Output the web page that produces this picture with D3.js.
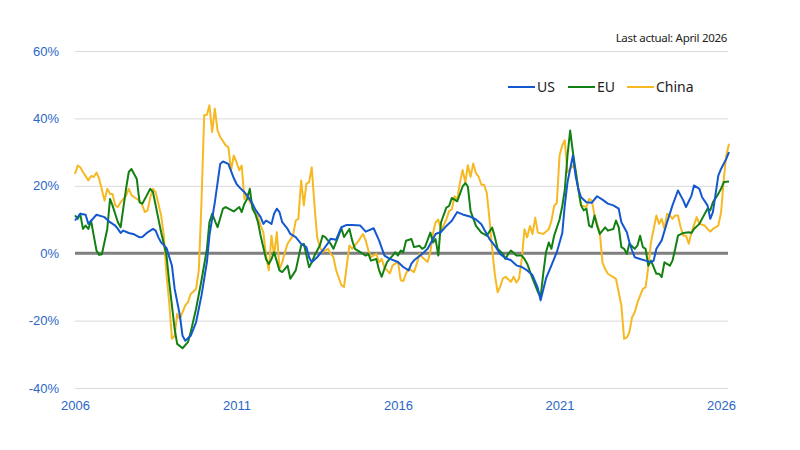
<!DOCTYPE html>
<html>
<head>
<meta charset="utf-8">
<script src="https://cdn.jsdelivr.net/npm/d3@7"></script>
<style>
  body { margin: 0; background: #fff; }
  svg { display: block; font-family: "Noto Sans", sans-serif; }
</style>
</head>
<body>
<div id="chart"></div>
<script>
// values, % change y/y, monthly points
let usDates = ["2006-01","2006-03","2006-05","2006-06","2006-09","2006-12","2007-02","2007-04","2007-05","2007-06","2007-07","2007-09","2007-11","2008-01","2008-02","2008-04","2008-06","2008-07","2008-08","2008-09","2008-11","2009-01","2009-02","2009-04","2009-05","2009-06","2009-08","2009-10","2009-12","2010-02","2010-03","2010-05","2010-07","2010-08","2010-10","2010-12","2011-01","2011-02","2011-04","2011-05","2011-07","2011-08","2011-10","2011-11","2011-12","2012-02","2012-03","2012-04","2012-05","2012-06","2012-08","2012-09","2012-11","2013-01","2013-03","2013-04","2013-05","2013-07","2013-09","2013-11","2013-12","2014-02","2014-04","2014-06","2014-08","2014-11","2015-01","2015-04","2015-06","2015-08","2015-10","2016-01","2016-03","2016-05","2016-06","2016-07","2016-10","2016-12","2017-02","2017-03","2017-05","2017-07","2017-09","2017-11","2018-01","2018-04","2018-06","2018-08","2018-09","2018-11","2019-01","2019-03","2019-05","2019-07","2019-09","2019-11","2020-01","2020-03","2020-05","2020-06","2020-08","2020-10","2020-12","2021-02","2021-03","2021-04","2021-05","2021-06","2021-07","2021-08","2021-09","2021-11","2022-01","2022-03","2022-05","2022-07","2022-09","2022-11","2022-12","2023-02","2023-03","2023-04","2023-05","2023-07","2023-09","2023-11","2023-12","2024-01","2024-03","2024-05","2024-07","2024-09","2024-11","2024-12","2025-02","2025-03","2025-05","2025-06","2025-08","2025-09","2025-10","2025-12","2026-01","2026-03","2026-04"]
let usValues = [9.7,11.7,11.4,8.7,11.4,10.7,9.2,8.2,7.2,6.0,6.7,6.0,5.6,4.7,4.8,6.2,7.2,6.7,4.7,3.2,1.5,-3.7,-10.6,-18.5,-24.5,-26,-24.5,-20.5,-12.6,-2.6,5.2,15.1,26.5,27.2,26.5,22.3,20.6,19.6,18.1,17.1,14.7,13,10.7,8.7,9.7,8.7,11.7,13.2,12.2,9.2,7.2,5.7,4.8,2.8,1.8,-1.2,-2.7,-1.2,0.8,3,4.3,4,7.7,8.4,8.4,8.2,6.4,7.4,3.8,-0.7,-1.7,-2.6,-4.1,-5.1,-3.1,-2.1,-0.2,1.3,4.2,5.7,6.3,8.1,9.6,12.2,11.5,10.8,10,8.6,7.1,4.2,2.2,-0.2,-1.5,-2.1,-3.6,-4.1,-5.1,-6.5,-10.4,-14,-7.5,-3.6,0.3,6,14.2,21.1,25,29,23,19.1,16.6,15.1,15,16.9,15.9,14.7,14.2,13.2,9.2,6.2,3.3,0.8,-1.2,-1.7,-2.2,-2.7,-2.2,1.3,3.8,9.2,14.2,18.6,15.6,13.7,17.1,20.1,19.1,16.6,14.2,10.2,12.2,23,25,28,30]

let euDates = ["2006-01","2006-02","2006-03","2006-04","2006-05","2006-06","2006-07","2006-08","2006-09","2006-10","2006-11","2007-01","2007-02","2007-03","2007-05","2007-06","2007-08","2007-09","2007-10","2007-12","2008-01","2008-02","2008-04","2008-05","2008-06","2008-08","2008-09","2008-11","2008-12","2009-01","2009-02","2009-03","2009-05","2009-07","2009-08","2009-10","2009-12","2010-02","2010-03","2010-04","2010-06","2010-08","2010-09","2010-12","2011-02","2011-03","2011-04","2011-05","2011-06","2011-07","2011-08","2011-09","2011-10","2011-12","2012-01","2012-02","2012-03","2012-05","2012-06","2012-08","2012-09","2012-11","2013-01","2013-02","2013-04","2013-05","2013-06","2013-08","2013-09","2013-10","2013-12","2014-01","2014-03","2014-04","2014-05","2014-07","2014-08","2014-09","2014-11","2015-01","2015-02","2015-03","2015-05","2015-06","2015-07","2015-08","2015-09","2015-11","2015-12","2016-01","2016-02","2016-03","2016-04","2016-06","2016-07","2016-09","2016-10","2016-11","2017-01","2017-02","2017-03","2017-04","2017-05","2017-07","2017-08","2017-09","2017-10","2017-11","2018-01","2018-02","2018-03","2018-04","2018-06","2018-08","2018-10","2018-12","2019-01","2019-02","2019-04","2019-05","2019-06","2019-07","2019-09","2019-11","2019-12","2020-01","2020-03","2020-05","2020-06","2020-07","2020-08","2020-09","2020-10","2020-11","2021-01","2021-02","2021-03","2021-04","2021-05","2021-06","2021-08","2021-09","2021-10","2021-11","2021-12","2022-01","2022-02","2022-03","2022-04","2022-06","2022-07","2022-09","2022-10","2022-11","2022-12","2023-01","2023-02","2023-03","2023-05","2023-06","2023-07","2023-08","2023-09","2023-10","2023-11","2024-01","2024-02","2024-03","2024-04","2024-06","2024-07","2024-08","2024-09","2024-11","2025-01","2025-02","2025-03","2025-05","2025-07","2025-08","2025-09","2025-10","2025-12","2026-01","2026-02","2026-04"]
let euValues = [11.2,10.2,11.7,7.2,8.2,7.2,9.7,5.2,0.8,-0.5,-0.3,7.2,16.1,14.2,9.2,7.7,19.1,24.1,25,22,15.1,14.7,17.6,19.1,18.1,10.2,6.2,-0.7,-8.6,-15.5,-22.5,-26.9,-28.2,-26.4,-23.5,-16.5,-8.1,1.3,9.2,11.7,7.7,13.2,13.7,12.4,13.7,12.2,14.7,16.1,19.1,13.2,11.7,9.2,5.2,-1.7,-3.2,-1.7,0.3,-5.1,-5.6,-3.7,-7.6,-5.1,2.3,2.8,-4.2,-2.7,-0.7,2.3,5.2,4.8,2.8,1.3,5.2,7.4,4.8,7.2,3.8,1.3,0.3,-0.7,-0.2,-2.2,-1.7,-5,-7,-4.6,-2.6,-0.7,0.3,-0.7,0.8,0.3,3.7,4.2,1.8,2.2,1.3,1.8,6.1,3.2,4.2,-0.7,9.1,13.5,14,16.4,15.9,15.4,19.8,20.8,19.8,12.5,8.1,6.1,5.2,7.6,4.7,1.3,-0.2,-1.7,-0.2,0.8,-0.7,-0.7,-1.7,-3.1,-7.5,-11.5,-13,-6,0.3,3.2,1.3,5.2,10,14,18.8,29,36.4,30,19.1,14.2,12.7,13.2,8.2,7.7,11.2,8.2,5.7,7.7,6.7,7.2,9.7,7.7,1.8,1.3,-0.2,2.8,1.3,2.3,5.2,1.8,1.3,-3.7,-2.2,-6.1,-6.1,-7.1,-2.7,-3.7,-2.2,1.3,5.2,6,6.2,6,7.2,8.7,11.7,13.2,12.7,15.1,17.6,19.1,21.1,21.3]

let chinaDates = ["2006-01","2006-02","2006-03","2006-04","2006-06","2006-07","2006-08","2006-09","2006-10","2006-12","2007-01","2007-02","2007-03","2007-04","2007-05","2007-06","2007-08","2007-09","2007-10","2007-11","2008-01","2008-02","2008-03","2008-04","2008-05","2008-06","2008-07","2008-09","2008-10","2008-11","2008-12","2009-01","2009-02","2009-03","2009-04","2009-06","2009-07","2009-08","2009-10","2009-11","2009-12","2010-01","2010-02","2010-03","2010-04","2010-05","2010-06","2010-07","2010-09","2010-10","2010-11","2010-12","2011-01","2011-02","2011-03","2011-04","2011-05","2011-06","2011-07","2011-08","2011-09","2011-10","2011-11","2011-12","2012-01","2012-02","2012-03","2012-04","2012-05","2012-06","2012-07","2012-08","2012-10","2012-11","2012-12","2013-01","2013-02","2013-03","2013-04","2013-05","2013-06","2013-07","2013-08","2013-09","2013-11","2013-12","2014-01","2014-02","2014-04","2014-05","2014-06","2014-07","2014-08","2014-09","2014-10","2014-12","2015-01","2015-02","2015-03","2015-05","2015-06","2015-07","2015-08","2015-09","2015-10","2015-11","2016-01","2016-02","2016-03","2016-04","2016-05","2016-07","2016-08","2016-09","2016-10","2016-12","2017-01","2017-02","2017-03","2017-04","2017-05","2017-07","2017-08","2017-09","2017-10","2017-11","2017-12","2018-01","2018-02","2018-03","2018-04","2018-05","2018-06","2018-07","2018-08","2018-09","2018-10","2018-11","2018-12","2019-01","2019-02","2019-03","2019-04","2019-05","2019-07","2019-08","2019-09","2019-10","2019-11","2019-12","2020-01","2020-02","2020-03","2020-04","2020-05","2020-07","2020-09","2020-10","2020-11","2020-12","2021-01","2021-02","2021-03","2021-04","2021-05","2021-06","2021-07","2021-08","2021-09","2021-11","2021-12","2022-01","2022-02","2022-04","2022-05","2022-06","2022-07","2022-09","2022-10","2022-12","2023-01","2023-02","2023-03","2023-04","2023-05","2023-06","2023-08","2023-09","2023-10","2023-11","2024-01","2024-02","2024-03","2024-04","2024-05","2024-06","2024-07","2024-08","2024-09","2024-10","2024-11","2024-12","2025-01","2025-02","2025-04","2025-05","2025-07","2025-08","2025-09","2025-10","2025-12","2026-01","2026-02","2026-03","2026-04"]
let chinaValues = [23.5,26,25.5,24.1,21.6,22.9,22.6,23.9,22.1,15.6,19.1,17.6,17.6,14.2,13.7,15.1,17.1,19.1,17.3,16.6,15.6,14.2,12.2,12.7,16.6,19.1,18.1,11.2,5.2,-6.6,-14.6,-25.4,-24.5,-18,-19.5,-15.5,-14.6,-12.1,-10.6,-5,15,41,41.1,43.9,35.9,42.9,36.4,34.5,32,31.5,24.6,29,27,24.6,26,16.1,17.6,15.1,14.2,12,10.7,8.2,6.2,-0.7,-5.1,5.2,-0.7,6.2,-4.7,-2.7,0.3,2.8,5.2,9.7,10.2,21.6,14.2,20.6,21.1,25.5,14.2,4.8,1.8,0.3,1.3,-0.2,-1.2,-5.1,-9.5,-10,-3.7,2.3,1.3,2.3,3.3,5.7,3.8,0.8,-1.2,-0.2,-2.7,-1.7,-4.2,-5.1,-6,-3.6,-2.6,-8,-8.3,-6,-4.6,-5.6,-3.1,-0.2,-1.2,-2.6,0.3,6.1,9.1,10,6.6,10,12.5,13,16.9,15.9,20.8,24.7,21,26.1,22.7,26.6,23.7,22.7,20.3,20.3,17.9,10,1.3,-6.5,-11.6,-10,-7.5,-7,-8.5,-7,-8.7,-7.5,-1.7,7.1,4.7,8.1,5.7,10.5,6.1,5.7,7.1,9.6,14,14.9,29,32,33.5,24,25,26,24.7,19,14.2,13.7,16.1,15.6,11.2,6.2,-2.7,-4.7,-6.1,-7.1,-7.6,-15.5,-25.4,-25,-23.5,-19,-17.5,-14.6,-10.6,-10.1,-4.2,3.3,11.2,8.7,10.2,7.2,11.7,11.2,10.2,11.2,11.2,7.7,5.2,5.2,2.8,6.2,10.7,8.7,8.2,7.2,6.4,7.2,8.2,12,22,29,32.5]

let seriesNames = ["US", "EU", "China"]
let seriesColors = ["#1458d0", "#138013", "#f6b923"]
let yTicks = [-40, -20, 0, 20, 40, 60]
let xTickLabels = ["2006", "2011", "2016", "2021", "2026"]

let width = 800
let height = 450
let margin = {top: 51, right: 72, bottom: 62, left: 75}
let innerWidth = width - margin.left - margin.right
let innerHeight = height - margin.top - margin.bottom

let parse = d3.timeParse("%Y-%m")
let zip = (dates, values) => dates.map((d, i) => ({date: parse(d), value: values[i]}))
let series = [zip(usDates, usValues), zip(euDates, euValues), zip(chinaDates, chinaValues)]

let svg = d3.select("#chart").append("svg")
            .attr("width", width)
            .attr("height", height)

let g = svg.append("g").attr("transform", `translate(${margin.left},${margin.top})`)

let xScale = d3.scaleTime()
              .domain([parse("2006-01"), parse("2026-04")])
              .range([0, innerWidth + 1])

let yScale = d3.scaleLinear()
              .domain([-40, 60])
              .range([innerHeight, 0])

let yAxis = g.append("g")
             .call(d3.axisLeft(yScale)
                     .tickValues(yTicks)
                     .tickFormat(d => d + "%")
                     .tickSize(-innerWidth)
                     .tickPadding(16))
yAxis.select(".domain").remove()
yAxis.selectAll("line").attr("stroke", "#d9d9d9").attr("stroke-width", 1)
yAxis.selectAll("text").attr("fill", "#2b67c8").attr("font-size", 13)

let xAxis = g.append("g")
             .attr("transform", `translate(0,${innerHeight})`)
             .call(d3.axisBottom(xScale)
                     .tickValues(xTickLabels.map(d => parse(d + "-01")))
                     .tickFormat(d3.timeFormat("%Y"))
                     .tickSize(0)
                     .tickPadding(13))
xAxis.select(".domain").remove()
xAxis.selectAll("text").attr("fill", "#2b67c8").attr("font-size", 13)

// zero line
g.append("line")
  .attr("x1", 0)
  .attr("x2", innerWidth)
  .attr("y1", yScale(0))
  .attr("y2", yScale(0))
  .attr("stroke", "#7f7f7f")
  .attr("stroke-width", 3)

let line = d3.line()
             .x(d => xScale(d.date))
             .y(d => yScale(d.value))

// draw US last so it sits on top like the original
let order = [2, 1, 0]
order.forEach(i => {
  g.append("path")
    .datum(series[i])
    .attr("fill", "none")
    .attr("stroke", seriesColors[i])
    .attr("stroke-width", 2)
    .attr("stroke-linejoin", "round")
    .attr("d", line)
})

// legend
let legendX = [508, 568, 627]
let legend = svg.append("g").attr("transform", "translate(0,87)")
seriesNames.forEach((name, i) => {
  legend.append("line")
    .attr("x1", legendX[i])
    .attr("x2", legendX[i] + 27)
    .attr("stroke", seriesColors[i])
    .attr("stroke-width", 2)
  legend.append("text")
    .attr("x", legendX[i] + 29)
    .attr("dy", "0.35em")
    .attr("font-size", 14)
    .attr("fill", "#222")
    .text(name)
})

svg.append("text")
  .attr("x", 727)
  .attr("y", 42)
  .attr("text-anchor", "end")
  .attr("font-size", 11.5)
  .attr("letter-spacing", -0.3)
  .attr("fill", "#222")
  .text("Last actual: April 2026")
</script>
</body>
</html>
